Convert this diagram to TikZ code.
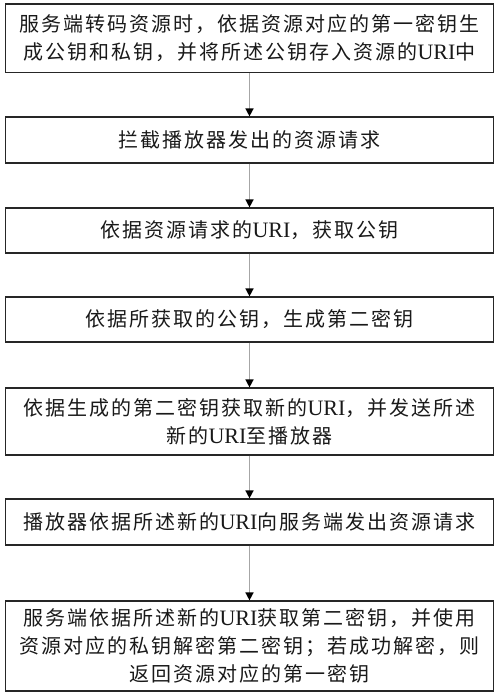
\documentclass[tikz,border=0pt]{standalone}
\usepackage{fontspec}
\setmainfont{Liberation Serif}
\newfontfamily\cjk[LetterSpace=10]{Noto Sans CJK SC}
\newfontfamily\latinfont{Liberation Serif}
\newcommand\U{{\latinfont\fontsize{22}{28}\selectfont URI}}
\usetikzlibrary{arrows.meta}
\tikzset{
  stepbox/.style={draw=black!85, line width=1.2pt, minimum width=488pt, inner sep=0pt,
    align=center, font=\cjk\fontsize{20}{28}\selectfont, text=black!90},
  arr/.style={draw=black!35, line width=1.5pt, -{Triangle[length=8pt,width=8pt,color=black]}}
}
\begin{document}
\begin{tikzpicture}[x=1pt,y=-1pt]
\useasboundingbox (0,0) rectangle (500,697);
\node[stepbox, minimum height=68.7pt] (b1) at (249.5,38.4) {服务端转码资源时，依据资源对应的第一密钥生\\成公钥和私钥，并将所述公钥存入资源的\U 中};
\node[stepbox, minimum height=46pt] (b2) at (249.5,140) {拦截播放器发出的资源请求};
\node[stepbox, minimum height=45pt] (b3) at (249.5,230.5) {依据资源请求的\U ，获取公钥};
\node[stepbox, minimum height=45pt] (b4) at (249.5,319.5) {依据所获取的公钥，生成第二密钥};
\node[stepbox, minimum height=67pt] (b5) at (249.5,421.5) {依据生成的第二密钥获取新的\U ，并发送所述\\新的\U 至播放器};
\node[stepbox, minimum height=46pt] (b6) at (249.5,522) {播放器依据所述新的\U 向服务端发出资源请求};
\node[stepbox, minimum height=90pt] (b7) at (249.5,646) {服务端依据所述新的\U 获取第二密钥，并使用\\资源对应的私钥解密第二密钥；若成功解密，则\\返回资源对应的第一密钥};
\draw[arr] (b1) -- (b2);
\draw[arr] (b2) -- (b3);
\draw[arr] (b3) -- (b4);
\draw[arr] (b4) -- (b5);
\draw[arr] (b5) -- (b6);
\draw[arr] (b6) -- (b7);
\end{tikzpicture}
\end{document}
